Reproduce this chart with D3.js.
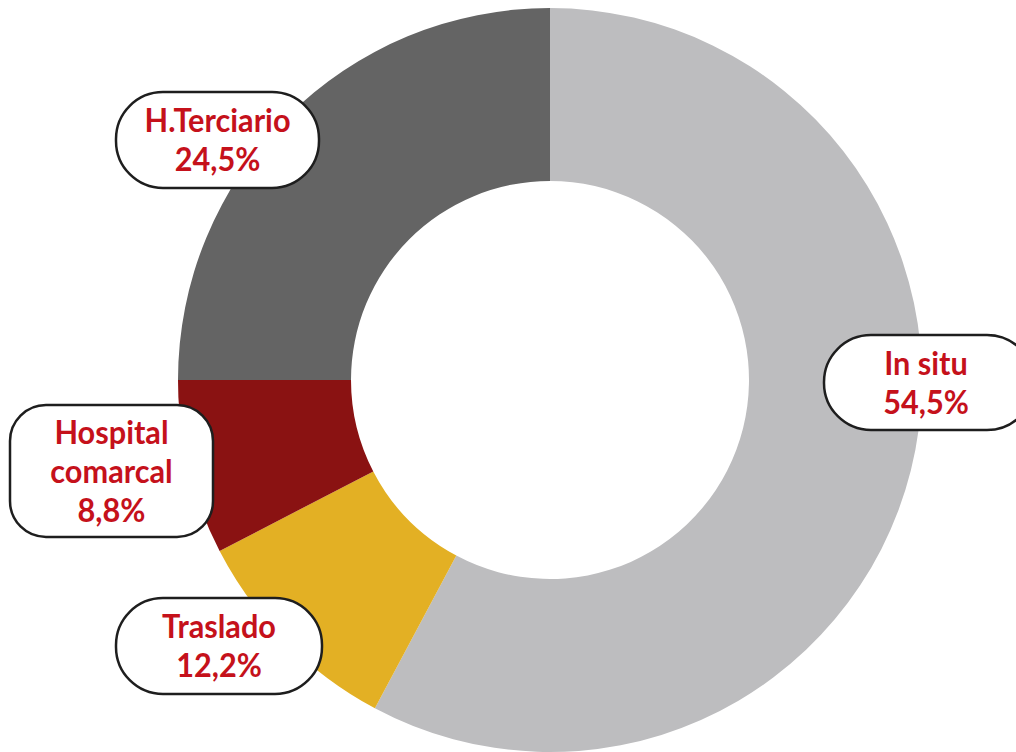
<!DOCTYPE html>
<html>
<head>
	<meta charset="utf-8">
	<title>Donut</title>
	<script src="https://d3js.org/d3.v7.min.js"></script>
	<style>
		html, body { margin: 0; padding: 0; background: #fff; }
		svg { display: block; }
		.lbl text {
			font-family: 'Lato', sans-serif;
			font-weight: 700;
			font-size: 33px;
			fill: #c5111b;
		}
		.lbl rect {
			fill: #fff;
			stroke: #1e1e1e;
			stroke-width: 2.5;
		}
	</style>
</head>
<body>
<script>
	// categories, in drawing order (clockwise from 12 o'clock)
	var categories = ["In situ", "Traslado", "Hospital comarcal", "H.Terciario"];
	// printed percentages
	var pctLabels = ["54,5%", "12,2%", "8,8%", "24,5%"];
	// slice sizes as they are drawn in the original (they don't quite follow the labels)
	var sliceShare = [57.8, 9.6, 7.6, 25.0];
	// label lines shown in the boxes
	var labelLines = [["In situ"], ["Traslado"], ["Hospital", "comarcal"], ["H.Terciario"]];

	var colors = ["#bdbdbf", "#e3b024", "#8a1212", "#646464"];

	var width = 1016, height = 752;
	var cx = 550, cy = 380;
	var outerR = 372, innerR = 199;

	// label box placement
	var boxes = [
		{x: 824, y: 335, w: 210, h: 95, rx: 47},
		{x: 116, y: 598, w: 206, h: 96, rx: 47},
		{x: 10, y: 405, w: 203, h: 132, rx: 36},
		{x: 116, y: 92, w: 203, h: 96, rx: 47}
	];

	var svg = d3.select("body").append("svg")
		.attr("width", width)
		.attr("height", height);

	var pie = d3.pie().sort(null).value(function(d) { return d; });
	var arc = d3.arc().innerRadius(innerR).outerRadius(outerR);

	var g = svg.append("g")
		.attr("transform", "translate(" + cx + "," + cy + ")");

	g.selectAll("path")
		.data(pie(sliceShare))
		.enter().append("path")
		.attr("d", arc)
		.attr("fill", function(d, i) { return colors[i]; });

	var lineH = 39;
	var lbl = svg.selectAll(".lbl")
		.data(categories)
		.enter().append("g")
		.attr("class", "lbl");

	lbl.append("rect")
		.attr("x", function(d, i) { return boxes[i].x; })
		.attr("y", function(d, i) { return boxes[i].y; })
		.attr("width", function(d, i) { return boxes[i].w; })
		.attr("height", function(d, i) { return boxes[i].h; })
		.attr("rx", function(d, i) { return boxes[i].rx; });

	lbl.each(function(d, i) {
		var b = boxes[i];
		var lines = labelLines[i].concat([pctLabels[i]]);
		var midX = i === 0 ? 926 : b.x + b.w / 2;
		var first = b.y + b.h / 2 - (lines.length - 1) * lineH / 2 + 12;
		// the original face is a bit narrower than Lato, squeeze it horizontally
		var t = d3.select(this).append("text")
			.attr("text-anchor", "middle")
			.attr("transform", "translate(" + midX + ",0) scale(0.93,1)");
		lines.forEach(function(s, k) {
			t.append("tspan")
				.attr("x", 0)
				.attr("y", first + k * lineH)
				.text(s);
		});
	});
</script>
</body>
</html>
